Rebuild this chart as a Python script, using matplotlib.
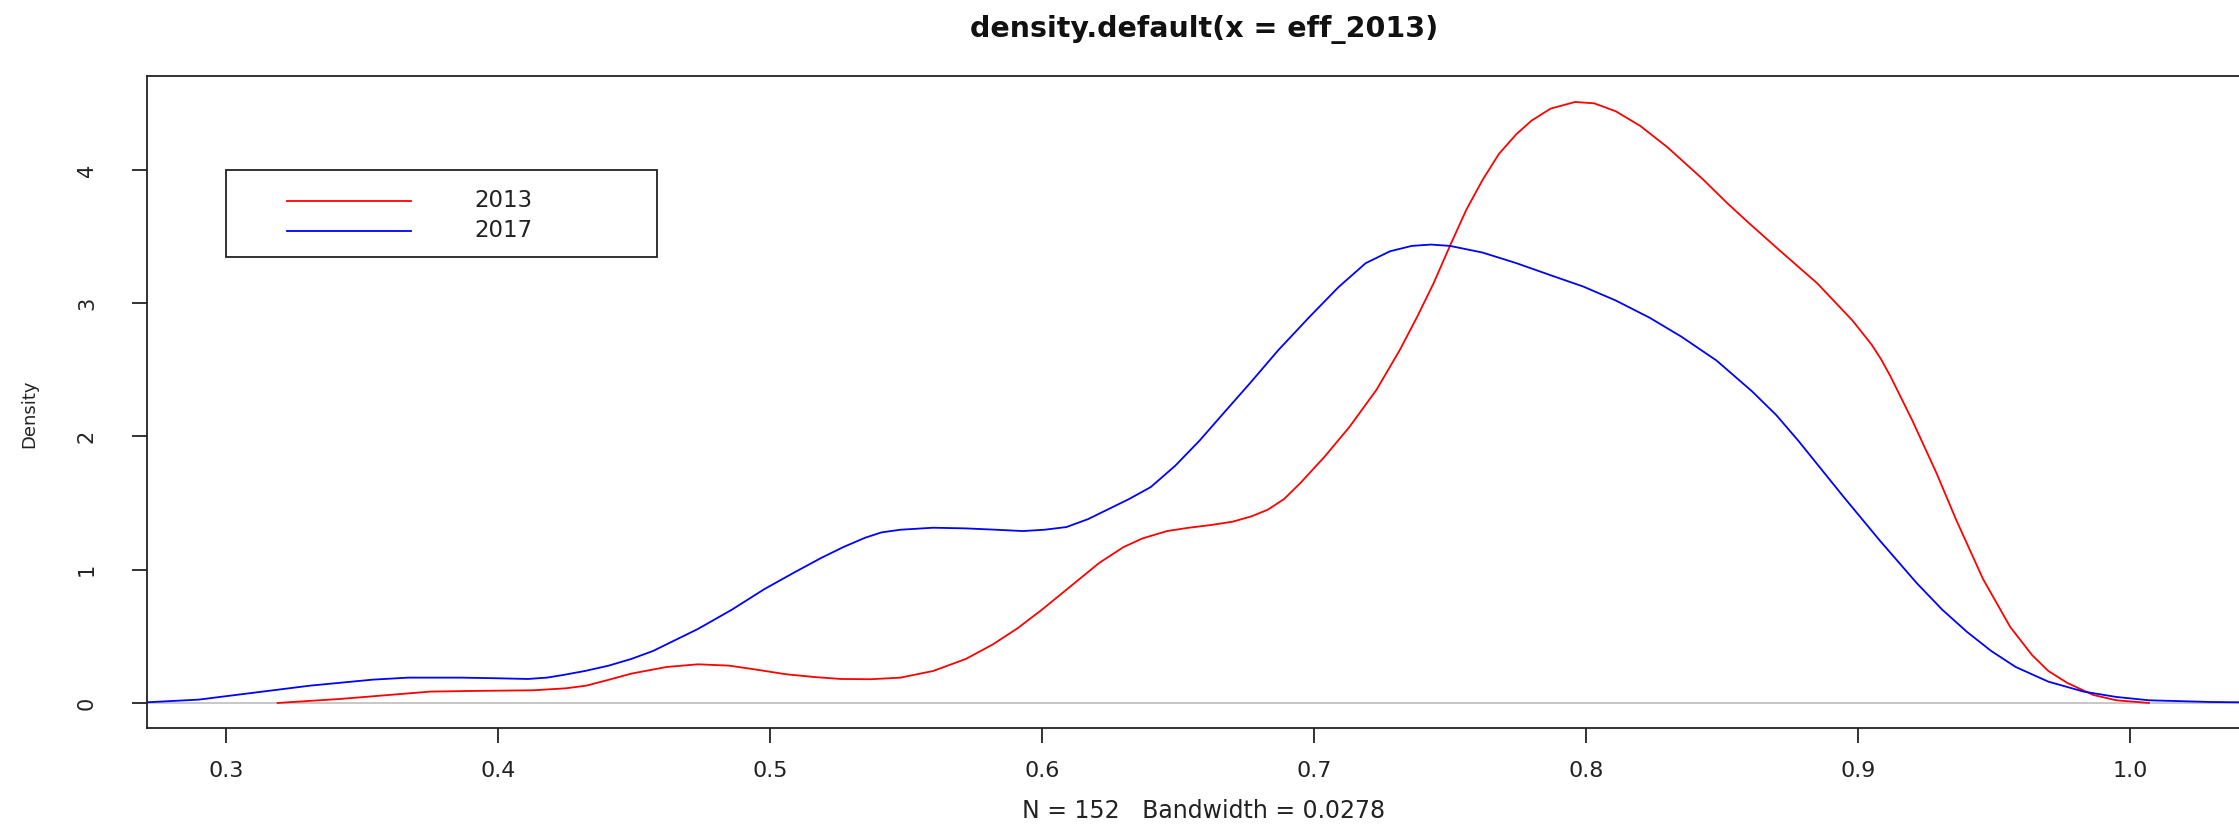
import matplotlib
matplotlib.use("Agg")
import matplotlib.pyplot as plt
from matplotlib.patches import Rectangle

plt.rcParams['font.family'] = ['DejaVu Sans']

# ---- data ----
x_2013 = [0.319, 0.342, 0.360, 0.375, 0.390, 0.413, 0.425, 0.4325, 0.440, 0.449,
          0.462, 0.4735, 0.485, 0.495, 0.506, 0.516, 0.526, 0.537, 0.548, 0.560,
          0.572, 0.582, 0.591, 0.600, 0.609, 0.621, 0.630, 0.637, 0.646, 0.654,
          0.662, 0.670, 0.677, 0.683, 0.689, 0.695, 0.704, 0.713, 0.723, 0.7316,
          0.738, 0.744, 0.750, 0.756, 0.762, 0.768, 0.7745, 0.780, 0.787, 0.796,
          0.803, 0.811, 0.820, 0.830, 0.843, 0.852, 0.860, 0.871, 0.885, 0.898,
          0.905, 0.9085, 0.912, 0.920, 0.929, 0.936, 0.946, 0.956, 0.964, 0.970,
          0.977, 0.9865, 0.995, 1.007]
d_2013 = [0.0, 0.03, 0.06, 0.085, 0.09, 0.095, 0.11, 0.13, 0.17, 0.22,
          0.27, 0.29, 0.28, 0.25, 0.215, 0.195, 0.18, 0.178, 0.19, 0.24,
          0.33, 0.44, 0.56, 0.70, 0.85, 1.05, 1.17, 1.235, 1.29, 1.315,
          1.335, 1.36, 1.40, 1.45, 1.53, 1.65, 1.85, 2.07, 2.35, 2.65,
          2.90, 3.15, 3.43, 3.70, 3.925, 4.12, 4.27, 4.37, 4.46, 4.51,
          4.50, 4.44, 4.33, 4.17, 3.93, 3.75, 3.60, 3.40, 3.15, 2.87,
          2.69, 2.58, 2.45, 2.12, 1.72, 1.38, 0.93, 0.57, 0.36, 0.24,
          0.15, 0.06, 0.02, 0.0]

x_2017 = [0.271, 0.290, 0.3095, 0.331, 0.354, 0.367, 0.3865, 0.400, 0.411, 0.418,
          0.424, 0.432, 0.4407, 0.449, 0.457, 0.465, 0.4735, 0.486, 0.498, 0.509,
          0.519, 0.527, 0.535, 0.541, 0.548, 0.560, 0.572, 0.583, 0.593, 0.601,
          0.609, 0.617, 0.624, 0.632, 0.640, 0.649, 0.658, 0.667, 0.6765, 0.687,
          0.6985, 0.709, 0.719, 0.728, 0.736, 0.743, 0.750, 0.762, 0.7745, 0.787,
          0.799, 0.811, 0.8235, 0.835, 0.848, 0.861, 0.870, 0.878, 0.8946, 0.908,
          0.9216, 0.931, 0.940, 0.949, 0.958, 0.970, 0.983, 0.995, 1.007, 1.030,
          1.050]
d_2017 = [0.005, 0.025, 0.075, 0.13, 0.175, 0.19, 0.19, 0.185, 0.18, 0.19,
          0.21, 0.24, 0.28, 0.33, 0.39, 0.47, 0.555, 0.70, 0.855, 0.98,
          1.09, 1.17, 1.24, 1.28, 1.30, 1.315, 1.31, 1.30, 1.29, 1.30,
          1.32, 1.38, 1.45, 1.53, 1.62, 1.78, 1.97, 2.18, 2.40, 2.65,
          2.90, 3.12, 3.30, 3.39, 3.43, 3.44, 3.43, 3.38, 3.30, 3.21,
          3.125, 3.02, 2.89, 2.75, 2.57, 2.34, 2.16, 1.97, 1.55, 1.22,
          0.90, 0.70, 0.535, 0.39, 0.27, 0.16, 0.085, 0.045, 0.02, 0.007,
          0.003]

series_labels = ['2013', '2017']
series_colors = ['#FF0000', '#0000FF']
x_ticks = [0.3, 0.4, 0.5, 0.6, 0.7, 0.8, 0.9, 1.0]
x_tick_labels = ['0.3', '0.4', '0.5', '0.6', '0.7', '0.8', '0.9', '1.0']
y_ticks = [0, 1, 2, 3, 4]
y_tick_labels = ['0', '1', '2', '3', '4']

title = 'density.default(x = eff_2013)'
xlabel = 'N = 152   Bandwidth = 0.0278'
ylabel = 'Density'

# ---- figure ----
W, H = 2239, 830
fig = plt.figure(figsize=(W / 100, H / 100), dpi=100)
fig.patch.set_facecolor('white')

L, R, T, B = 147, 2261, 76, 728
ax = fig.add_axes([L / W, 1 - B / H, (R - L) / W, (B - T) / H])
ax.set_xlim(0.27096, 1.0482)
ax.set_ylim(-0.188, 4.705)

ax.axhline(0, color='#BEBEBE', lw=1.2, zorder=1)
ax.plot(x_2013, d_2013, color=series_colors[0], lw=1.3, zorder=3)
ax.plot(x_2017, d_2017, color=series_colors[1], lw=1.3, zorder=4)

for s in ax.spines.values():
    s.set_color('#222222')
    s.set_linewidth(1.3)

ax.set_xticks(x_ticks)
ax.set_xticklabels(x_tick_labels)
ax.set_yticks(y_ticks)
ax.set_yticklabels(y_tick_labels, rotation=90, va='center')
ax.tick_params(axis='both', direction='out', length=11, width=1.3,
               color='#222222', labelcolor='#222222')
ax.tick_params(axis='x', pad=13, labelsize=16)
ax.tick_params(axis='y', pad=25, labelsize=15)

# legend box (R-style legend at x=0.3, y=4)
box_x0, box_y1 = 0.3, 4.0
box_w, box_h = 0.1585, 0.653
ax.add_patch(Rectangle((box_x0, box_y1 - box_h), box_w, box_h, fill=False,
                       edgecolor='#222222', lw=1.3, zorder=5))
row_y = [3.768, 3.545]
for lab, col, yy in zip(series_labels, series_colors, row_y):
    ax.plot([0.3224, 0.368], [yy, yy], color=col, lw=1.3, zorder=6)
    ax.text(0.3915, yy, lab, fontsize=16.5, va='center', ha='left',
            color='#222222', zorder=6)

fig.text(1204 / W, 1 - 29 / H, title, ha='center', va='center',
         fontsize=20.5, fontweight='bold', color='#111111')
fig.text(1204 / W, 1 - 811 / H, xlabel, ha='center', va='center',
         fontsize=17, color='#222222')
fig.text(29 / W, 1 - 414 / H, ylabel, ha='center', va='center',
         rotation=90, fontsize=13, color='#222222')

fig.savefig('out.png', dpi=100, facecolor='white')
